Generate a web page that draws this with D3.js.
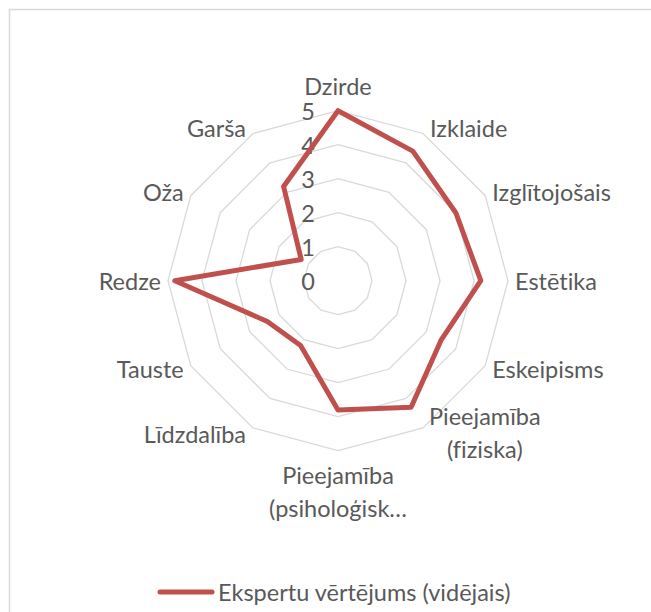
<!DOCTYPE html>
<html>
<head>
<meta charset="utf-8">
<script src="https://cdn.jsdelivr.net/npm/d3@7"></script>
<style>
  body { margin: 0; background: #fff; }
  svg text { font-family: Lato, "Open Sans", sans-serif; fill: #595959; font-variant-ligatures: none; }
</style>
</head>
<body>
<script>
// categories clockwise from the top, "\n" marks the wrapped lines
const categories = ['Dzirde', 'Izklaide', 'Izglītojošais', 'Estētika', 'Eskeipisms',
  'Pieejamība\n(fiziska)', 'Pieejamība\n(psiholoģisk…', 'Līdzdalība', 'Tauste', 'Redze', 'Oža', 'Garša'];
const values = [5, 4.4, 4.0, 4.2, 3.5, 4.3, 3.8, 2.2, 2.4, 4.8, 1.25, 3.2];
const ticks = [0, 1, 2, 3, 4, 5];
const seriesName = 'Ekspertu vērtējums (vidējais)';

const width = 651;
const height = 612;
const cx = 338, cy = 280.7;
const fontSize = 23.5;
const lineH = 33;
const red = '#c0504d';
const grid = '#d9d9d9';

const svg = d3.select('body').append('svg')
    .attr('width', width)
    .attr('height', height);

// chart border (runs off the right and bottom edge)
svg.append('rect')
  .attr('x', 9.5).attr('y', 9.5)
  .attr('width', width + 20).attr('height', height + 20)
  .attr('fill', 'none')
  .attr('stroke', grid)
  .attr('stroke-width', 1.5);

const r = d3.scaleLinear().domain([0, 5]).range([0, 170]);
const angle = d3.scalePoint().domain(d3.range(categories.length))
  .range([0, 2 * Math.PI * (categories.length - 1) / categories.length]);

const g = svg.append('g').attr('transform', `translate(${cx},${cy})`);

// rings
const ring = d3.lineRadial().curve(d3.curveLinearClosed);
g.append('g').selectAll('path')
  .data(ticks.filter(t => t > 0))
  .enter().append('path')
  .attr('d', t => ring(categories.map((c, i) => [angle(i), r(t)])))
  .attr('fill', 'none')
  .attr('stroke', grid)
  .attr('stroke-width', 1.3);

// tick labels
g.append('g').selectAll('text')
  .data(ticks)
  .enter().append('text')
  .attr('x', -30)
  .attr('y', t => -r(t))
  .attr('text-anchor', 'middle')
  .attr('dominant-baseline', 'central')
  .style('font-size', fontSize + 'px')
  .text(t => t);

// series
g.append('path')
  .attr('d', ring(values.map((v, i) => [angle(i), r(v)])))
  .attr('fill', 'none')
  .attr('stroke', red)
  .attr('stroke-width', 5)
  .attr('stroke-linejoin', 'round');

// category labels
const R = r(5);
categories.forEach((c, i) => {
  const a = angle(i);
  const s = Math.sin(a), co = Math.cos(a);
  const vx = R * s, vy = -R * co;
  const lines = c.split('\n');
  const t = g.append('text')
    .style('font-size', fontSize + 'px')
    .attr('dominant-baseline', 'central');
  lines.forEach(l => t.append('tspan').text(l));
  const tsp = t.selectAll('tspan');

  if (Math.abs(s) < 0.1) {
    t.attr('text-anchor', 'middle');
    const first = co > 0 ? vy - 25 - (lines.length - 1) * lineH : vy + 24;
    tsp.attr('x', vx).attr('y', (d, k) => first + k * lineH);
  } else if (lines.length === 1) {
    t.attr('text-anchor', s > 0 ? 'start' : 'end');
    tsp.attr('x', vx + Math.sign(s) * 7).attr('y', vy - co * 6.5);
  } else {
    const w = d3.max(tsp.nodes(), n => n.getComputedTextLength());
    t.attr('text-anchor', 'middle');
    const mid = vy - co * 5;
    tsp.attr('x', vx + Math.sign(s) * (6 + w / 2))
      .attr('y', (d, k) => mid + (k - (lines.length - 1) / 2) * lineH);
  }
});

// legend
const legend = svg.append('g').attr('transform', `translate(0,592)`);
legend.append('line')
  .attr('x1', 160).attr('x2', 212)
  .attr('stroke', red)
  .attr('stroke-width', 5)
  .attr('stroke-linecap', 'round');
legend.append('text')
  .attr('x', 218)
  .attr('dominant-baseline', 'central')
  .style('font-size', fontSize + 'px')
  .text(seriesName);
</script>
</body>
</html>
